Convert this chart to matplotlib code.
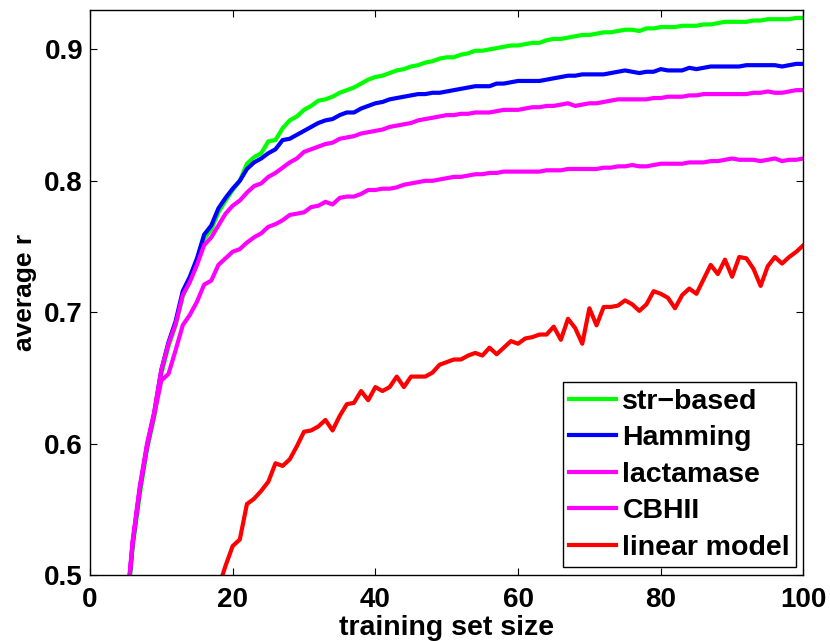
import matplotlib
matplotlib.use("Agg")
import matplotlib.pyplot as plt

# ------------------------------------------------
# data
# ------------------------------------------------
train_size = list(range(5, 101))

str_based = [
    0.462, 0.522, 0.562, 0.596, 0.620, 0.653, 0.674, 0.690, 0.712, 0.724,
    0.738, 0.756, 0.763, 0.776, 0.785, 0.793, 0.800, 0.813, 0.818, 0.821,
    0.830, 0.831, 0.840, 0.846, 0.849, 0.854, 0.857, 0.861, 0.862, 0.864,
    0.867, 0.869, 0.871, 0.874, 0.877, 0.879, 0.880, 0.882, 0.884, 0.885,
    0.887, 0.888, 0.890, 0.891, 0.893, 0.894, 0.894, 0.896, 0.897, 0.899,
    0.899, 0.900, 0.901, 0.902, 0.903, 0.903, 0.904, 0.905, 0.905, 0.907,
    0.908, 0.908, 0.909, 0.910, 0.911, 0.911, 0.912, 0.913, 0.913, 0.914,
    0.915, 0.915, 0.914, 0.916, 0.916, 0.917, 0.917, 0.917, 0.918, 0.918,
    0.918, 0.919, 0.919, 0.920, 0.921, 0.921, 0.921, 0.921, 0.922, 0.922,
    0.923, 0.923, 0.923, 0.923, 0.924, 0.924,
]

hamming = [
    0.465, 0.525, 0.566, 0.598, 0.623, 0.656, 0.677, 0.693, 0.716, 0.727,
    0.741, 0.759, 0.766, 0.779, 0.787, 0.794, 0.800, 0.809, 0.814, 0.817,
    0.821, 0.824, 0.831, 0.832, 0.835, 0.838, 0.841, 0.844, 0.846, 0.847,
    0.850, 0.852, 0.852, 0.855, 0.857, 0.859, 0.860, 0.862, 0.863, 0.864,
    0.865, 0.866, 0.866, 0.867, 0.867, 0.868, 0.869, 0.870, 0.871, 0.872,
    0.872, 0.872, 0.874, 0.874, 0.875, 0.876, 0.876, 0.876, 0.876, 0.877,
    0.878, 0.879, 0.880, 0.880, 0.881, 0.881, 0.881, 0.881, 0.882, 0.883,
    0.884, 0.883, 0.882, 0.883, 0.883, 0.885, 0.884, 0.884, 0.884, 0.886,
    0.885, 0.886, 0.887, 0.887, 0.887, 0.887, 0.887, 0.888, 0.888, 0.888,
    0.888, 0.888, 0.887, 0.888, 0.889, 0.889,
]

lactamase = [
    0.468, 0.527, 0.568, 0.600, 0.624, 0.656, 0.676, 0.691, 0.713, 0.723,
    0.736, 0.751, 0.757, 0.766, 0.775, 0.781, 0.785, 0.791, 0.796, 0.798,
    0.803, 0.806, 0.810, 0.814, 0.817, 0.822, 0.824, 0.826, 0.828, 0.829,
    0.832, 0.833, 0.834, 0.836, 0.837, 0.838, 0.839, 0.841, 0.842, 0.843,
    0.844, 0.846, 0.847, 0.848, 0.849, 0.850, 0.850, 0.851, 0.851, 0.852,
    0.852, 0.852, 0.853, 0.854, 0.854, 0.854, 0.855, 0.856, 0.856, 0.857,
    0.857, 0.858, 0.859, 0.857, 0.858, 0.859, 0.859, 0.860, 0.861, 0.862,
    0.862, 0.862, 0.862, 0.862, 0.863, 0.863, 0.864, 0.864, 0.864, 0.865,
    0.865, 0.866, 0.866, 0.866, 0.866, 0.866, 0.866, 0.866, 0.867, 0.867,
    0.868, 0.867, 0.867, 0.868, 0.869, 0.869,
]

cbhii = [
    0.466, 0.525, 0.566, 0.598, 0.622, 0.648, 0.653, 0.671, 0.690, 0.698,
    0.708, 0.721, 0.724, 0.736, 0.741, 0.746, 0.748, 0.753, 0.757, 0.760,
    0.765, 0.767, 0.770, 0.774, 0.775, 0.776, 0.780, 0.781, 0.784, 0.782,
    0.787, 0.788, 0.788, 0.790, 0.793, 0.793, 0.794, 0.794, 0.795, 0.797,
    0.798, 0.799, 0.800, 0.800, 0.801, 0.802, 0.803, 0.803, 0.804, 0.805,
    0.805, 0.806, 0.806, 0.807, 0.807, 0.807, 0.807, 0.807, 0.807, 0.808,
    0.808, 0.808, 0.809, 0.809, 0.809, 0.809, 0.809, 0.810, 0.810, 0.811,
    0.811, 0.812, 0.811, 0.811, 0.812, 0.813, 0.813, 0.813, 0.813, 0.814,
    0.814, 0.814, 0.815, 0.815, 0.816, 0.817, 0.816, 0.816, 0.816, 0.815,
    0.816, 0.817, 0.815, 0.816, 0.816, 0.817,
]

linear_size = list(range(18, 101))

linear_model = [
    0.490, 0.507, 0.522, 0.527, 0.554, 0.558, 0.564, 0.571, 0.585, 0.583,
    0.588, 0.598, 0.609, 0.610, 0.613, 0.618, 0.610, 0.621, 0.630, 0.631,
    0.640, 0.633, 0.643, 0.640, 0.643, 0.651, 0.643, 0.651, 0.651, 0.651,
    0.654, 0.660, 0.662, 0.664, 0.664, 0.667, 0.669, 0.667, 0.673, 0.668,
    0.673, 0.678, 0.676, 0.680, 0.681, 0.683, 0.683, 0.689, 0.679, 0.695,
    0.688, 0.676, 0.703, 0.690, 0.704, 0.704, 0.705, 0.709, 0.706, 0.701,
    0.706, 0.716, 0.714, 0.711, 0.703, 0.713, 0.718, 0.714, 0.725, 0.736,
    0.729, 0.740, 0.727, 0.742, 0.741, 0.733, 0.720, 0.735, 0.742, 0.737,
    0.742, 0.746, 0.751,
]

x_ticks = [0, 20, 40, 60, 80, 100]
y_ticks = [0.5, 0.6, 0.7, 0.8, 0.9]

# ------------------------------------------------
# figure
# ------------------------------------------------
plt.rcParams["font.family"] = ["Liberation Sans", "DejaVu Sans"]
plt.rcParams["font.weight"] = "bold"

fig = plt.figure(figsize=(8.3, 6.41), dpi=100)
ax = fig.add_axes([0.1084, 0.103, 0.8596, 0.8814])

lw = 3.0
ax.plot(train_size, str_based, color=(0, 1, 0), lw=lw, label="str\u2212based")
ax.plot(train_size, hamming, color=(0, 0, 1), lw=lw, label="Hamming")
ax.plot(train_size, lactamase, color=(1, 0, 1), lw=lw, label="lactamase")
ax.plot(train_size, cbhii, color=(1, 0, 1), lw=lw, label="CBHII")
ax.plot(linear_size, linear_model, color=(1, 0, 0), lw=lw, label="linear model")

ax.set_xlim(0, 100)
ax.set_ylim(0.5, 0.93)
ax.set_xticks(x_ticks)
ax.set_xticklabels([str(t) for t in x_ticks])
ax.set_yticks(y_ticks)
ax.set_yticklabels(["%.1f" % t for t in y_ticks])

ax.tick_params(direction="in", length=5, width=0.8, top=True, right=True,
               labelsize=20, colors="black")
ax.tick_params(axis="x", pad=9)
ax.tick_params(axis="y", pad=5)
for spine in ax.spines.values():
    spine.set_linewidth(1.0)

ax.set_xlabel("training set size", fontsize=20.5, fontweight="bold", labelpad=1)
ax.set_ylabel("average r", fontsize=19, fontweight="bold", labelpad=5)

leg = ax.legend(loc="lower right", bbox_to_anchor=(0.990, 0.014),
                borderaxespad=0, fontsize=20.5, handlelength=1.65,
                handletextpad=0.22, labelspacing=0.37, borderpad=0.22,
                fancybox=False, framealpha=1, edgecolor="black")
leg.get_frame().set_linewidth(1.0)

fig.savefig("out.png", dpi=100)
